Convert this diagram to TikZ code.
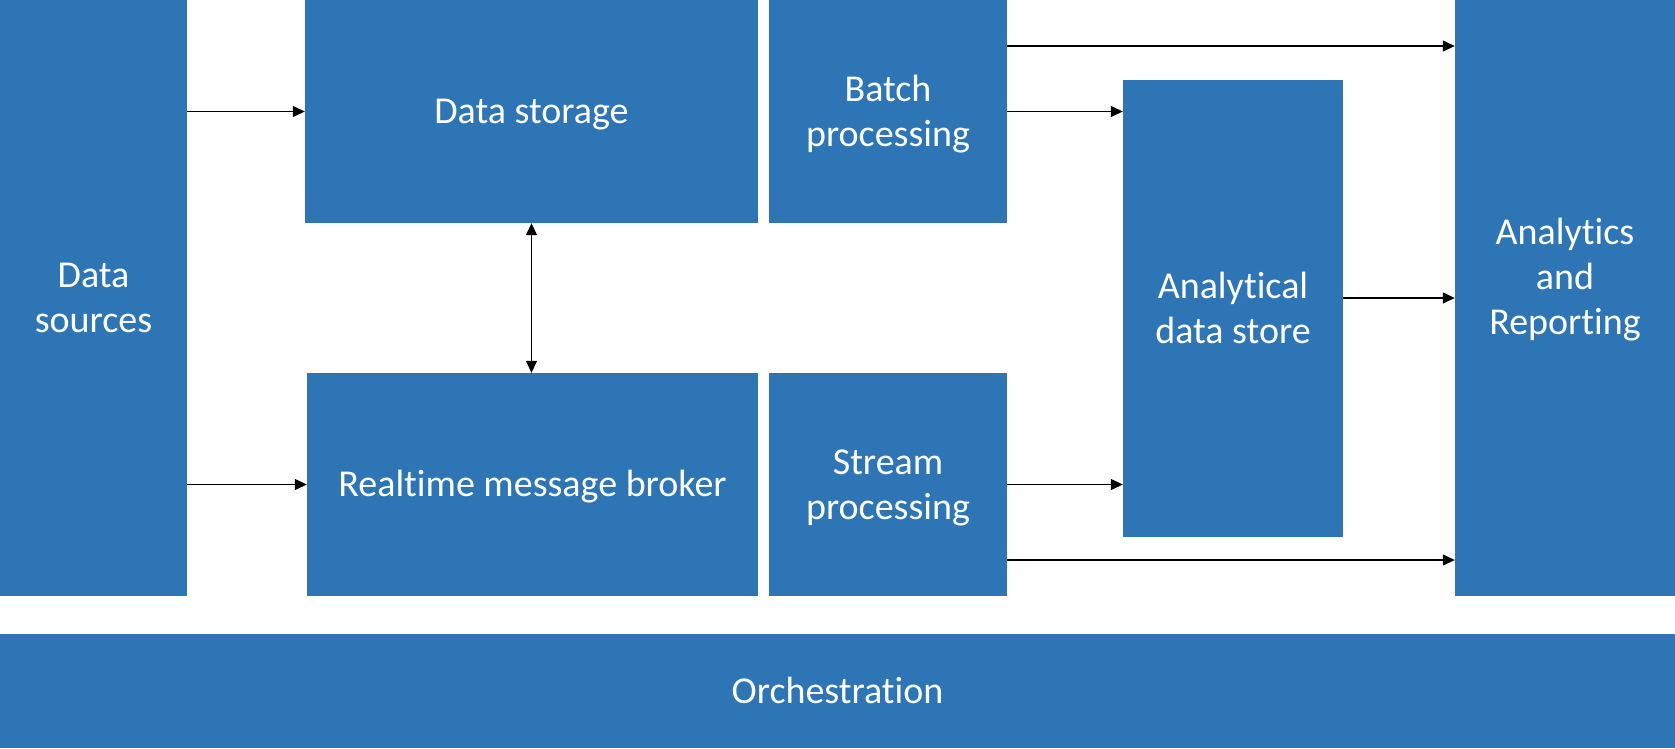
\documentclass[tikz,border=0pt]{standalone}
\usepackage{fontspec}
\setmainfont{Carlito}[Ligatures=CommonOff]
\usetikzlibrary{arrows.meta}
\definecolor{blu}{RGB}{46,117,182}
\begin{document}
\begin{tikzpicture}[x=1pt,y=-1pt,
  box/.style={fill=blu, draw=none, text=white, align=center, inner sep=0pt,
              font=\fontsize{38}{45}\selectfont, text height=24pt, text depth=0pt},
  twolines/.style={text height=69pt},
  lbl/.style={text=white, align=center, inner sep=0pt, font=\fontsize{38}{45}\selectfont,
              text height=114pt, text depth=0pt},
  arr/.style={-{Triangle[length=12pt,width=11pt]}, line width=1.2pt},
  biarr/.style={{Triangle[length=12pt,width=11pt]}-{Triangle[length=12pt,width=11pt]}, line width=1.2pt}]
\useasboundingbox (0,0) rectangle (1675,748);

% blocks
\node[box, twolines, minimum width=187pt, minimum height=596pt] (src) at (93.5,298) {Data\\sources};
\node[box, minimum width=453pt, minimum height=223pt] (st) at (531.5,111.5) {Data storage};
\node[box, twolines, minimum width=238pt, minimum height=223pt] (bp) at (888,111.5) {Batch\\processing};
\node[box, minimum width=451pt, minimum height=223pt] (rb) at (532.5,484.5) {Realtime message broker};
\node[box, twolines, minimum width=238pt, minimum height=223pt] (sp) at (888,484.5) {Stream\\processing};
\node[box, twolines, minimum width=220pt, minimum height=457pt] (ads) at (1233,308.5) {Analytical\\data store};
\node[box, minimum width=220pt, minimum height=596pt] (ar) at (1565,298) {};
\node[lbl] (arlabel) at (1565,277) {Analytics\\and\\Reporting};
\node[box, minimum width=1675pt, minimum height=114pt] (orc) at (837.5,691) {Orchestration};

% connector heights
\coordinate (ytop) at (0,46);
\coordinate (ybot) at (0,560);

% connectors
\draw[arr] (src.east |- st.west) -- (st.west);
\draw[arr] (src.east |- rb.west) -- (rb.west);
\draw[biarr] (st.south) -- (st.south |- rb.north);
\draw[arr] (bp.east |- ytop) -- (ar.west |- ytop);
\draw[arr] (bp.east) -- (bp.east -| ads.west);
\draw[arr] (sp.east) -- (sp.east -| ads.west);
\draw[arr] (ads.east |- ar.west) -- (ar.west);
\draw[arr] (sp.east |- ybot) -- (ar.west |- ybot);
\end{tikzpicture}
\end{document}
